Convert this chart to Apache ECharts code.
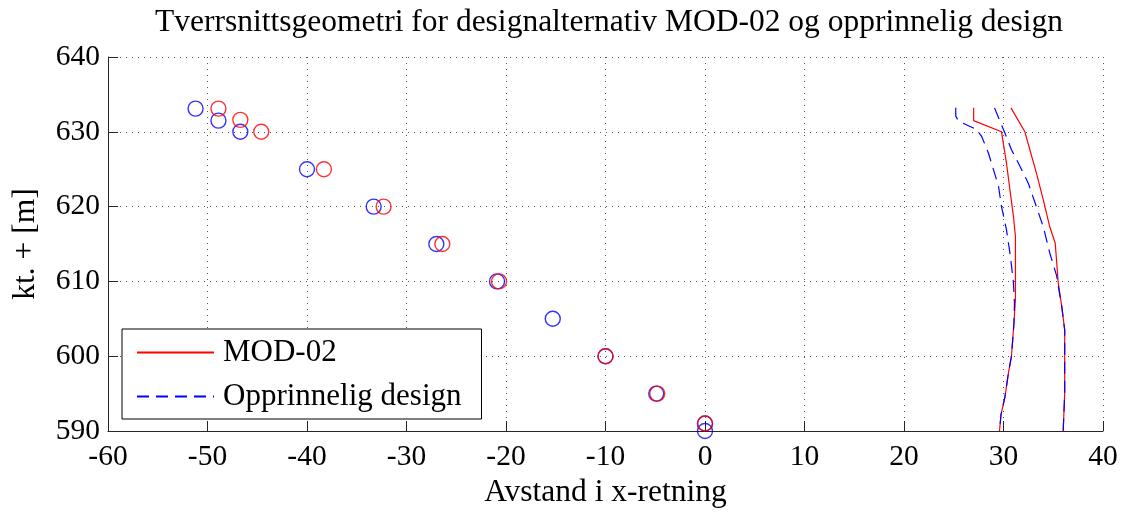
<!DOCTYPE html>
<html>
<head>
<meta charset="utf-8">
<script src="https://cdn.jsdelivr.net/npm/echarts@6/dist/echarts.min.js"></script>
<style>
  html, body { margin: 0; padding: 0; background: #fff; }
  #chart { width: 1122px; height: 514px; }
</style>
</head>
<body>
<div id="chart"></div>
<script>
// Tick settings
const xTicks = { min: -60, max: 40, step: 10 };
const yTicks = { min: 590, max: 640, step: 10 };

// Dam cross-section walls, [x, elevation]
const modInnerWall = [[27.0,633.2],[27.0,631.5],[29.8,630.0],[30.3,625.8],[30.65,622.2],[31.0,618.7],[31.2,616.0],[31.2,607.6],[31.05,604.4],[30.8,600.0],[30.5,597.8],[30.15,594.6],[29.75,592.2],[29.6,590.0]];
const modOuterWall = [[30.75,633.2],[32.15,630.0],[32.65,627.6],[33.3,624.5],[34.0,620.9],[34.65,617.3],[35.2,615.1],[35.5,609.8],[35.85,606.7],[36.15,603.5],[36.15,595.0],[36.0,590.0]];
const origInnerWall = [[25.2,633.2],[25.2,632.1],[25.5,631.4],[27.3,630.3],[27.8,629.4],[28.5,627.1],[29.0,624.9],[29.5,622.7],[29.8,620.0],[30.3,616.9],[30.7,613.3],[31.0,609.8],[31.1,607.0],[31.05,604.4],[30.8,600.0],[30.5,597.8],[30.15,594.6],[29.75,592.2],[29.6,590.0]];
const origOuterWall = [[29.1,633.2],[29.65,631.4],[30.15,629.8],[30.8,627.6],[31.65,625.4],[32.5,623.1],[33.3,620.0],[34.0,617.3],[34.65,613.8],[35.35,610.7],[35.5,609.4],[35.85,606.7],[36.15,603.5],[36.15,595.0],[36.0,590.0]];

// Upstream slope points
const modSlopePoints = [[-48.9,633.1],[-46.7,631.6],[-44.6,630.0],[-38.3,625.0],[-32.3,620.0],[-26.4,615.0],[-20.7,610.0],[-10.0,600.0],[-4.8,595.0],[0.0,591.0]];
const origSlopePoints = [[-51.2,633.1],[-48.9,631.5],[-46.7,630.0],[-40.0,625.0],[-33.3,620.0],[-27.0,615.0],[-20.9,610.0],[-15.3,605.0],[-10.0,600.0],[-4.9,595.0],[0.0,591.0],[0.0,590.0]];

const seriesNames = ['MOD-02', 'Opprinnelig design'];
const RED = '#ff0000', BLUE = '#0000ff';
const FONT = '"Liberation Serif", "Times New Roman", serif';

function wall(name, data, color, dashed) {
  return {
    name, type: 'line', data, symbol: 'none', silent: true, z: dashed ? 4 : 3,
    lineStyle: { color, width: 1.2, type: dashed ? [12, 7] : 'solid' },
    itemStyle: { color }
  };
}
function points(data, color, z) {
  return {
    type: 'scatter', data, symbol: 'circle', symbolSize: 15, clip: false, z,
    itemStyle: { color: 'rgba(0,0,0,0)', borderColor: color, borderWidth: 1.4 }
  };
}

const axisCommon = {
  type: 'value',
  axisLine: { show: true, onZero: false, lineStyle: { color: '#262626', width: 1 } },
  axisTick: { show: true, inside: true, length: 10, lineStyle: { color: '#262626' } },
  splitLine: { show: true, lineStyle: { color: '#555', width: 1, type: [1, 5] } },
  axisLabel: { color: '#000', fontFamily: FONT, fontSize: 29.5 },
  nameTextStyle: { color: '#000', fontFamily: FONT, fontSize: 31.5 },
  nameLocation: 'middle'
};

const chart = echarts.init(document.getElementById('chart'), null, { renderer: 'canvas' });
chart.setOption({
  animation: false,
  backgroundColor: '#fff',
  title: {
    text: 'Tverrsnittsgeometri for designalternativ MOD-02 og opprinnelig design',
    left: 604, textAlign: 'center', top: 2,
    textStyle: { color: '#000', fontFamily: FONT, fontSize: 31.5, fontWeight: 'normal' }
  },
  grid: { left: 108, right: 19, top: 57, bottom: 83 },
  xAxis: Object.assign({}, axisCommon, {
    min: xTicks.min, max: xTicks.max, interval: xTicks.step,
    name: 'Avstand i x-retning', nameGap: 46,
    axisLabel: Object.assign({}, axisCommon.axisLabel, { margin: 11 })
  }),
  yAxis: Object.assign({}, axisCommon, {
    min: yTicks.min, max: yTicks.max, interval: yTicks.step,
    name: 'kt. + [m]', nameGap: 66,
    axisLabel: Object.assign({}, axisCommon.axisLabel, { margin: 8 })
  }),
  legend: {
    data: seriesNames,
    orient: 'vertical', left: 122, top: 329,
    backgroundColor: '#fff', borderColor: '#000', borderWidth: 1, borderRadius: 0,
    padding: [8, 20, 7, 14], itemGap: 13, itemWidth: 77, itemHeight: 14,
    selectedMode: false,
    itemStyle: { opacity: 0 },
    textStyle: { color: '#000', fontFamily: FONT, fontSize: 31, padding: [0, 0, 0, 4] }
  },
  series: [
    wall(seriesNames[0], modInnerWall, RED, false),
    wall(seriesNames[0], modOuterWall, RED, false),
    wall(seriesNames[1], origInnerWall, BLUE, true),
    wall(seriesNames[1], origOuterWall, BLUE, true),
    points(origSlopePoints, BLUE, 5),
    points(modSlopePoints, RED, 6)
  ]
});
</script>
</body>
</html>
